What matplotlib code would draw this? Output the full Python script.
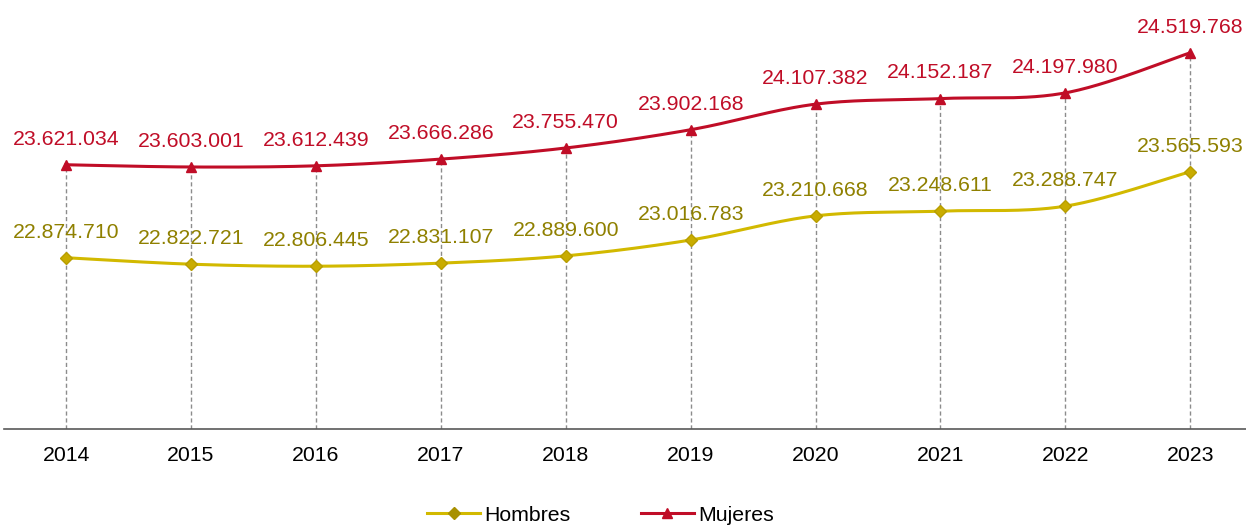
import numpy as np
from matplotlib import pyplot as plt
from matplotlib.lines import Line2D

years = ['2014', '2015', '2016', '2017', '2018', '2019', '2020', '2021', '2022', '2023']
hombres = [22874710, 22822721, 22806445, 22831107, 22889600, 23016783,
           23210668, 23248611, 23288747, 23565593]
mujeres = [23621034, 23603001, 23612439, 23666286, 23755470, 23902168,
           24107382, 24152187, 24197980, 24519768]


def smooth_curve(x, y, n=30):
    """
    Catmull-Rom style smoothing of the drawn line (like Excel smoothed lines).
    Only used for drawing the curve between the real data points.
    """
    x = np.asarray(x, dtype=float)
    y = np.asarray(y, dtype=float)
    px = np.concatenate([[x[0]], x, [x[-1]]])
    py = np.concatenate([[y[0]], y, [y[-1]]])
    xs, ys = [], []
    for i in range(1, len(px) - 2):
        t = np.linspace(0, 1, n)
        p0, p1, p2, p3 = (px[i-1], py[i-1]), (px[i], py[i]), (px[i+1], py[i+1]), (px[i+2], py[i+2])
        # bezier control points
        c1 = (p1[0] + (p2[0] - p0[0]) / 6, p1[1] + (p2[1] - p0[1]) / 6)
        c2 = (p2[0] - (p3[0] - p1[0]) / 6, p2[1] - (p3[1] - p1[1]) / 6)
        bx = (1-t)**3*p1[0] + 3*(1-t)**2*t*c1[0] + 3*(1-t)*t**2*c2[0] + t**3*p2[0]
        by = (1-t)**3*p1[1] + 3*(1-t)**2*t*c1[1] + 3*(1-t)*t**2*c2[1] + t**3*p2[1]
        xs.append(bx)
        ys.append(by)
    return np.concatenate(xs), np.concatenate(ys)


def fmt(v):
    return '{:,}'.format(v).replace(',', '.')


plt.rcParams['font.family'] = ['Liberation Sans', 'DejaVu Sans']

col_h_line = '#D2B900'
col_h_mark = '#C9AC00'
col_h_text = '#8F8000'
col_m_line = '#C00D27'
col_m_text = '#C00D27'
fs = 15.3

fig = plt.figure(figsize=(12.46, 5.25), dpi=100)
ax = fig.add_axes([0.0029, 0.1829, 1.0025, 0.8305])

x = np.arange(len(years))
ax.set_xlim(-0.5, len(years) - 0.5)
ax.set_ylim(21500000, 25000000)

# drop lines
for xi, yi in zip(x, mujeres):
    ax.plot([xi, xi], [21500000, yi], color='#8c8c8c', lw=1, ls=(0, (3, 2)), zorder=1)

sx, sy = smooth_curve(x, hombres)
ax.plot(sx, sy, color=col_h_line, lw=2.2, zorder=2)
ax.plot(x, hombres, ls='none', marker='D', ms=6.5, color=col_h_mark,
        markeredgecolor='#B89E00', zorder=3)

sx, sy = smooth_curve(x, mujeres)
ax.plot(sx, sy, color=col_m_line, lw=2.2, zorder=2)
ax.plot(x, mujeres, ls='none', marker='^', ms=7.5, color=col_m_line, zorder=3)

for xi, yi in zip(x, hombres):
    ax.annotate(fmt(yi), (xi, yi), xytext=(0, 14.5), textcoords='offset points',
                ha='center', va='baseline', fontsize=fs, color=col_h_text)
for xi, yi in zip(x, mujeres):
    ax.annotate(fmt(yi), (xi, yi), xytext=(0, 14.5), textcoords='offset points',
                ha='center', va='baseline', fontsize=fs, color=col_m_text)

ax.set_xticks(x)
ax.set_xticklabels(years, fontsize=fs)
ax.tick_params(axis='x', length=0, pad=12)
ax.set_yticks([])
for s in ['top', 'right', 'left']:
    ax.spines[s].set_visible(False)
ax.spines['bottom'].set_color('#595959')
ax.spines['bottom'].set_linewidth(1.2)

handles = [
    Line2D([], [], color=col_h_line, lw=2.2, marker='D', ms=6.5,
           markerfacecolor='#A89000', markeredgecolor='#A89000'),
    Line2D([], [], color=col_m_line, lw=2.2, marker='^', ms=7.5),
]
fig.legend(handles, ['Hombres', 'Mujeres'], loc='center', bbox_to_anchor=(0.482, 0.019),
           ncol=2, frameon=False, fontsize=fs, handlelength=2.5, handletextpad=0.2,
           columnspacing=3.3)

fig.savefig('out.png', dpi=100)
